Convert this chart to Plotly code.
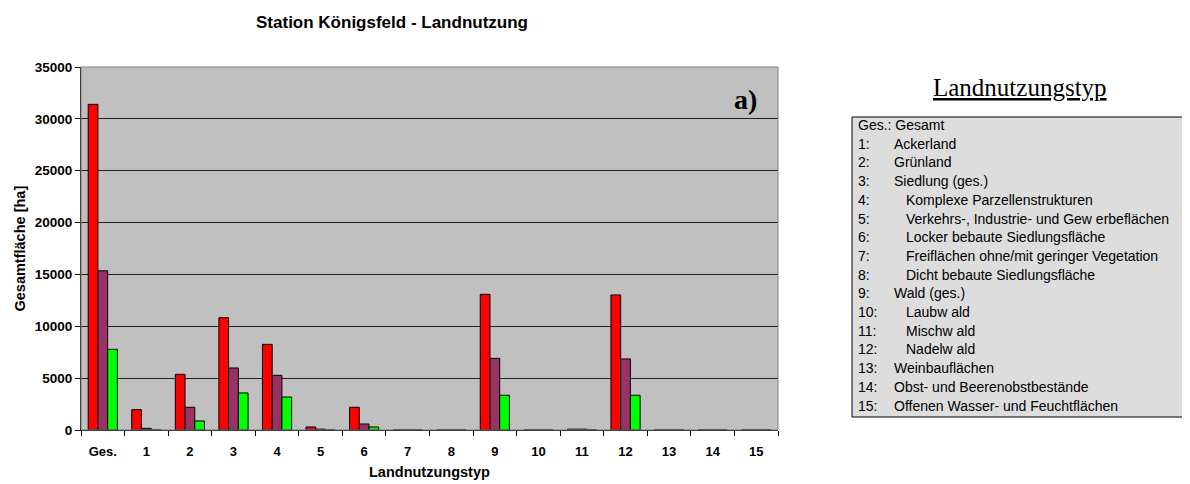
import plotly.graph_objects as go

categories = ["Ges.", "1", "2", "3", "4", "5", "6", "7", "8", "9", "10", "11", "12", "13", "14", "15"]
series_red = [31400, 1960, 5370, 10830, 8260, 290, 2190, 0, 0, 13080, 0, 80, 13020, 0, 0, 0]
series_purple = [15350, 160, 2190, 5980, 5270, 80, 580, 0, 0, 6910, 0, 80, 6850, 0, 0, 0]
series_green = [7780, 0, 870, 3570, 3180, 0, 290, 0, 0, 3350, 0, 0, 3350, 0, 0, 0]
y_ticks = [0, 5000, 10000, 15000, 20000, 25000, 30000, 35000]

legend_codes = ["Ges.: Gesamt", "1:", "2:", "3:", "4:", "5:", "6:", "7:", "8:", "9:", "10:", "11:", "12:", "13:", "14:", "15:"]
legend_labels = ["", "Ackerland", "Grünland", "Siedlung (ges.)", "Komplexe Parzellenstrukturen",
                 "Verkehrs-, Industrie- und Gew erbeflächen", "Locker bebaute Siedlungsfläche",
                 "Freiflächen ohne/mit geringer Vegetation", "Dicht bebaute Siedlungsfläche",
                 "Wald (ges.)", "Laubw ald", "Mischw ald", "Nadelw ald", "Weinbauflächen",
                 "Obst- und Beerenobstbestände", "Offenen Wasser- und Feuchtflächen"]
legend_indent = [0, 0, 0, 0, 1, 1, 1, 1, 1, 0, 1, 1, 1, 0, 0, 0]

# page is rendered with an 8px body margin
OFF = 8
W, H = 1190 - OFF, 484 - OFF
# plot area in page coordinates
L, R, T, B = 81, 778, 67, 430

def px(x):
    return (x - L) / (R - L)

def py(y):
    return (B - y) / (B - T)

fig = go.Figure()
for name, vals, col in [("Serie 1", series_red, "#FF0000"),
                        ("Serie 2", series_purple, "#993366"),
                        ("Serie 3", series_green, "#00FF00")]:
    fig.add_trace(go.Bar(x=categories, y=vals, name=name,
                         marker=dict(color=col, line=dict(color="#000000", width=1))))

font = "Liberation Sans, Arial, sans-serif"
serif = "Liberation Serif, Times New Roman, serif"

def note(text, x, y, size, fam=font, **kw):
    d = dict(text=text, x=x, y=y, xref="paper", yref="paper", showarrow=False,
             xanchor="center", yanchor="middle", font=dict(family=fam, size=size, color="black"))
    d.update(kw)
    return d

ann = []
ann.append(note("<b>Landnutzungstyp</b>", 0.5, py(472), 14.5))
ann.append(note("<b>Gesamtfläche [ha]</b>", px(19), 0.5, 14.5, textangle=-90))
ann.append(note("<b>a)</b>", px(745), py(99), 28, fam=serif))
ann.append(note("<u>Landnutzungstyp</u>", px(1020), py(87), 25, fam=serif))

row0, step = 125, 18.7
for i, (code, lab, ind) in enumerate(zip(legend_codes, legend_labels, legend_indent)):
    yy = py(row0 + i * step)
    ann.append(note(code, px(856), yy, 14, xanchor="left"))
    if lab:
        ann.append(note(lab, px(892 + 12 * ind), yy, 14, xanchor="left"))

shapes = [
    dict(type="rect", xref="paper", yref="paper", x0=px(852), x1=px(1190), y0=py(417), y1=py(117),
         fillcolor="#DDDDDD", line=dict(color="black", width=1), layer="below"),
    dict(type="rect", xref="paper", yref="paper", x0=0, x1=1, y0=0, y1=1,
         line=dict(color="#808080", width=1), layer="above"),
]

fig.update_layout(
    width=W, height=H,
    margin=dict(l=L - OFF, r=W - (R - OFF), t=T - OFF, b=H - (B - OFF), pad=0),
    paper_bgcolor="white", plot_bgcolor="#C0C0C0",
    barmode="group", bargap=0.33, bargroupgap=0,
    showlegend=False,
    title=dict(text="<b>Station Königsfeld - Landnutzung</b>", x=px(392), xref="paper",
               xanchor="center", y=1 - (22 - OFF) / H, yanchor="middle",
               font=dict(family=font, size=17, color="black")),
    annotations=ann, shapes=shapes,
    xaxis=dict(type="category", tickson="boundaries", ticks="outside", ticklen=5,
               tickcolor="black", showline=True, linecolor="black", linewidth=1,
               showgrid=False, ticklabelstandoff=9,
               tickfont=dict(family=font, size=13, color="black", weight="bold")),
    yaxis=dict(range=[0, 35000], tickvals=y_ticks, tickformat="d", ticks="outside", ticklen=5,
               tickcolor="black", showline=True, linecolor="black", linewidth=1,
               showgrid=True, gridcolor="#222222", gridwidth=1, zeroline=False,
               tickfont=dict(family=font, size=13.5, color="black", weight="bold")),
    font=dict(family=font),
)

fig.write_html("out.html")
